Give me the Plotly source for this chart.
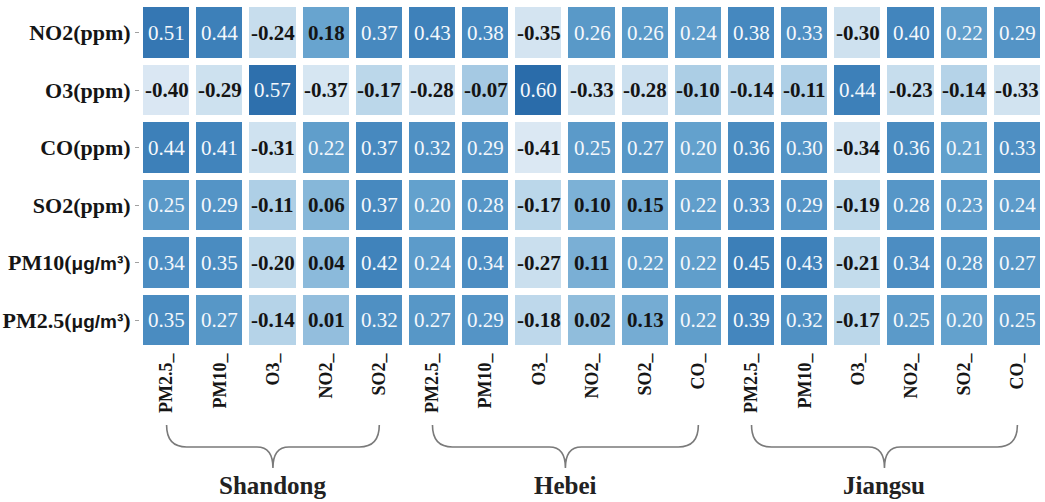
import plotly.graph_objects as go

# Correlation coefficients: meteorological/pollutant rows vs. station pollutant columns
row_labels = ["NO2(ppm)", "O3(ppm)", "CO(ppm)", "SO2(ppm)", "PM10(μg/m³)", "PM2.5(μg/m³)"]

provinces = ["Shandong", "Hebei", "Jiangsu"]
province_columns = [
    ["PM2.5_", "PM10_", "O3_", "NO2_", "SO2_"],
    ["PM2.5_", "PM10_", "O3_", "NO2_", "SO2_", "CO_"],
    ["PM2.5_", "PM10_", "O3_", "NO2_", "SO2_", "CO_"],
]

no2_row = [0.51, 0.44, -0.24, 0.18, 0.37, 0.43, 0.38, -0.35, 0.26, 0.26, 0.24, 0.38, 0.33, -0.30, 0.40, 0.22, 0.29]
o3_row = [-0.40, -0.29, 0.57, -0.37, -0.17, -0.28, -0.07, 0.60, -0.33, -0.28, -0.10, -0.14, -0.11, 0.44, -0.23, -0.14, -0.33]
co_row = [0.44, 0.41, -0.31, 0.22, 0.37, 0.32, 0.29, -0.41, 0.25, 0.27, 0.20, 0.36, 0.30, -0.34, 0.36, 0.21, 0.33]
so2_row = [0.25, 0.29, -0.11, 0.06, 0.37, 0.20, 0.28, -0.17, 0.10, 0.15, 0.22, 0.33, 0.29, -0.19, 0.28, 0.23, 0.24]
pm10_row = [0.34, 0.35, -0.20, 0.04, 0.42, 0.24, 0.34, -0.27, 0.11, 0.22, 0.22, 0.45, 0.43, -0.21, 0.34, 0.28, 0.27]
pm25_row = [0.35, 0.27, -0.14, 0.01, 0.32, 0.27, 0.29, -0.18, 0.02, 0.13, 0.22, 0.39, 0.32, -0.17, 0.25, 0.20, 0.25]

z = [no2_row, o3_row, co_row, so2_row, pm10_row, pm25_row]
col_labels = [c for group in province_columns for c in group]
n_cols = len(col_labels)
n_rows = len(row_labels)
xs = list(range(n_cols))
ys = list(range(n_rows))

W, H = 1045, 502
ML, MR, MT, MB = 140, 1, 4, 153
PW, PH = W - ML - MR, H - MT - MB

SERIF = "Liberation Serif, Times New Roman, serif"


def style_row_label(label):
    # mass-concentration units are set in a condensed sans face
    if "(μg/m³)" in label:
        name = label.replace("(μg/m³)", "")
        return (f"{name}(<span style='font-size:19px;font-family:Liberation Sans Narrow, "
                f"Liberation Sans, sans-serif'>μg/m³</span>)")
    return label


blues = [
    [0.0, "#dbe8f3"],
    [0.208, "#c2dbec"],
    [0.406, "#95c0de"],
    [0.604, "#63a1cd"],
    [0.802, "#4285bd"],
    [1.0, "#2a6caa"],
]

fig = go.Figure(
    go.Heatmap(
        z=z,
        x=xs,
        y=ys,
        zmin=-0.41,
        zmax=0.60,
        colorscale=blues,
        showscale=False,
        xgap=7,
        ygap=7,
        hoverinfo="skip",
    )
)

annotations = []
for r in range(n_rows):
    for c in range(n_cols):
        v = z[r][c]
        light = v >= 0.19
        annotations.append(dict(
            x=c, y=r, xref="x", yref="y", text=f"{v:.2f}", showarrow=False,
            font=dict(family=SERIF, size=21, color="#f4f8fc" if light else "#141414",
                      weight="normal" if light else "bold"),
        ))


def px_to_paper_y(py):
    return (H - MB - py) / PH


def col_to_paper(c):
    return (c + 0.5) / n_cols


# Curly braces grouping the columns of each province
shapes = []
start = 0
for name, cols in zip(provinces, province_columns):
    first, last = start, start + len(cols) - 1
    x0, x1 = col_to_paper(first), col_to_paper(last)
    xc = (x0 + x1) / 2
    y_top = px_to_paper_y(425)
    y_mid = px_to_paper_y(447)
    y_tip = px_to_paper_y(468)
    r = 20 / PW
    rt = 16 / PW
    path = (
        f"M {x0},{y_top} Q {x0},{y_mid} {x0 + r},{y_mid} "
        f"L {xc - rt},{y_mid} Q {xc},{y_mid} {xc},{y_tip} "
        f"Q {xc},{y_mid} {xc + rt},{y_mid} "
        f"L {x1 - r},{y_mid} Q {x1},{y_mid} {x1},{y_top}"
    )
    shapes.append(dict(type="path", xref="paper", yref="paper", path=path,
                       line=dict(color="#7a7a7a", width=1.6)))
    annotations.append(dict(
        x=xc, y=px_to_paper_y(485), xref="paper", yref="paper", text=name,
        showarrow=False, xanchor="center", yanchor="middle",
        font=dict(family=SERIF, size=25, color="#222222", weight="bold"),
    ))
    start = last + 1

fig.update_layout(
    width=W,
    height=H,
    margin=dict(l=ML, r=MR, t=MT, b=MB),
    paper_bgcolor="white",
    plot_bgcolor="white",
    annotations=annotations,
    shapes=shapes,
    xaxis=dict(
        range=[-0.5, n_cols - 0.5],
        tickmode="array",
        tickvals=xs,
        ticktext=col_labels,
        tickangle=-90,
        ticks="",
        showgrid=False,
        zeroline=False,
        showline=False,
        tickfont=dict(family=SERIF, size=18, color="#151515", weight="bold"),
    ),
    yaxis=dict(
        range=[n_rows - 0.5, -0.5],
        tickmode="array",
        tickvals=ys,
        ticktext=[style_row_label(lbl) for lbl in row_labels],
        ticks="outside",
        ticklen=4,
        tickcolor="#a0a0a0",
        showgrid=False,
        zeroline=False,
        showline=False,
        tickfont=dict(family=SERIF, size=22, color="#151515", weight="bold"),
    ),
)

fig.write_html("out.html")
